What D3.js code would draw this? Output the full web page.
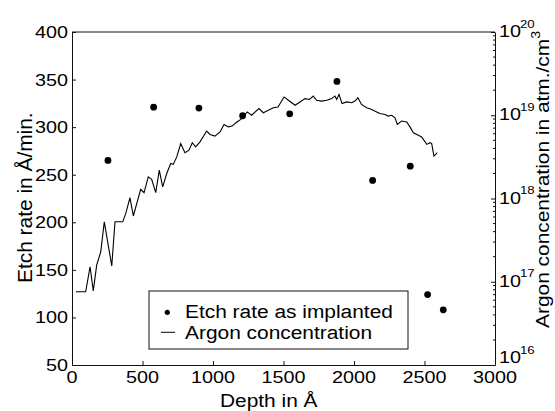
<!DOCTYPE html>
<html><head><meta charset="utf-8">
<script src="https://cdn.jsdelivr.net/npm/d3@7"></script>
<style>
body{margin:0;background:#fff}
svg{display:block}
text{font-family:"Liberation Sans",Arial,Helvetica,sans-serif;fill:#000}
</style>
</head><body><div id="chart"></div>
<script>
// ---- data ----
const etchDepth = [255, 579, 900, 1210, 1544, 1879, 2132, 2399, 2522, 2633];
const etchRate  = [265, 321, 320, 312, 314, 348, 244, 259, 124, 108];

const argonDepth = [28, 97, 128, 151, 175, 204, 229, 282, 305, 360, 383, 411, 435, 487, 511, 541, 565, 594, 619, 643,
  672, 700, 718, 743, 771, 801, 830, 853, 877, 908, 955, 979, 1014, 1050, 1078, 1110, 1135, 1163, 1204, 1243,
  1274, 1326, 1357, 1392, 1428, 1461, 1504, 1535, 1582, 1617, 1652, 1684, 1711, 1735, 1771, 1806, 1842, 1865, 1877, 1894,
  1915, 1948, 1984, 2007, 2028, 2053, 2090, 2126, 2161, 2184, 2220, 2243, 2267, 2291, 2307, 2338, 2374, 2397, 2421, 2456,
  2480, 2516, 2539, 2551, 2567, 2591];
// log10 of argon concentration (atm./cm^3)
const argonLogConc = [16.88, 16.88, 17.18, 16.89, 17.20, 17.36, 17.72, 17.19, 17.72, 17.72, 17.83, 18.01, 17.79, 18.11, 18.07, 18.26, 18.23, 18.07, 18.34, 18.14,
  18.30, 18.42, 18.41, 18.50, 18.66, 18.55, 18.58, 18.67, 18.62, 18.68, 18.81, 18.77, 18.75, 18.80, 18.89, 18.86, 18.87, 18.91, 18.96, 19.04,
  19.00, 19.08, 19.03, 19.06, 19.09, 19.10, 19.22, 19.18, 19.12, 19.16, 19.20, 19.19, 19.23, 19.18, 19.17, 19.18, 19.20, 19.23, 19.19, 19.25,
  19.14, 19.16, 19.15, 19.17, 19.21, 19.13, 19.09, 19.07, 19.04, 19.02, 19.01, 18.99, 19.00, 18.97, 18.89, 18.93, 18.92, 18.86, 18.79, 18.76,
  18.74, 18.65, 18.67, 18.66, 18.51, 18.55];

const xTicks = [0, 500, 1000, 1500, 2000, 2500, 3000];
const yTicks = [50, 100, 150, 200, 250, 300, 350, 400];
const rightExponents = [16, 17, 18, 19, 20];
const legendLabels = ["Etch rate as implanted", "Argon concentration"];
const xTitle = "Depth in Å";
const yTitle = "Etch rate in Å/min.";
const y2Title = "Argon concentration in atm./cm";

// ---- layout ----
const W = 555, H = 411;
const L = 72, R = 495, T = 32, B = 365;

const svg = d3.select("#chart").append("svg").attr("width", W).attr("height", H);

const x = d3.scaleLinear().domain([0, 3000]).range([L, R]);
const y = d3.scaleLinear().domain([50, 400]).range([B, T]);
const yR = d3.scaleLog().domain([1e16, 1e20]).range([B, T]);

function label(txt, px, py, o) {
  o = o || {};
  const t = svg.append("text")
    .attr("transform", `translate(${px},${py}) rotate(${o.rot || 0}) scale(${o.sx || 1},${o.sy || 1})`)
    .attr("font-size", o.size || 18)
    .attr("text-anchor", o.anchor || "start")
    .attr("dy", o.dy || 0)
    .text(txt);
  return t;
}

// frame
const ink = "#111";
svg.append("line").attr("x1", L).attr("x2", R).attr("y1", T).attr("y2", T).attr("stroke", ink).attr("stroke-width", 1);

// bottom axis
const gx = svg.append("g").attr("transform", `translate(0,${B})`)
  .call(d3.axisBottom(x).tickValues(xTicks).tickSizeInner(-4).tickSizeOuter(0).tickFormat(""));
// left axis
const gy = svg.append("g").attr("transform", `translate(${L},0)`)
  .call(d3.axisLeft(y).tickValues(yTicks).tickSizeInner(-4).tickSizeOuter(0).tickFormat(""));
// right axis (log)
const majors = rightExponents.map(e => Math.pow(10, e));
const minors = [];
rightExponents.slice(0, -1).forEach(e => { for (let k = 2; k <= 9; k++) minors.push(k * Math.pow(10, e)); });
const gr = svg.append("g").attr("transform", `translate(${R},0)`)
  .call(d3.axisRight(yR).tickValues(majors).tickSizeInner(-4).tickSizeOuter(0).tickFormat(""));
gr.selectAll(".minor").data(minors).enter().append("line").attr("class", "minor")
  .attr("x1", 0).attr("x2", -2).attr("y1", d => yR(d)).attr("y2", d => yR(d)).attr("stroke", ink);
[gx, gy, gr].forEach(g => { g.selectAll("path,line").attr("stroke", ink).attr("stroke-width", 1); });

// tick labels
xTicks.forEach(v => label(String(v), x(v), B + 18, {anchor: "middle", size: 18, sx: 1.1, sy: 0.95}));
yTicks.forEach(v => label(String(v), L - 4, y(v) + 6, {anchor: "end", size: 18, sx: 1.1, sy: 0.95}));
rightExponents.forEach(e => {
  const yy = yR(Math.pow(10, e)) + (e === 16 ? -2 : 5);
  const t = svg.append("text").attr("transform", `translate(${R + 4},${yy}) scale(1.1,0.95)`).attr("font-size", 18);
  t.append("tspan").text("10");
  t.append("tspan").attr("font-size", 12).attr("dy", -10).attr("dx", -1).text(String(e));
});

// axis titles
label(xTitle, 220, 406.5, {size: 19, sx: 1.1, sy: 0.95});
label(yTitle, 32, 283, {rot: -90, size: 19, sx: 1.1, sy: 1.05});
const t2 = svg.append("text").attr("transform", `translate(549,328) rotate(-90) scale(1.1,1)`).attr("font-size", 19);
t2.append("tspan").text(y2Title);
t2.append("tspan").attr("font-size", 13).attr("dy", -9).text("3");

// argon line
const argon = argonDepth.map((d, i) => ({d, c: Math.pow(10, argonLogConc[i])}));
svg.append("path").datum(argon)
  .attr("fill", "none").attr("stroke", "#000").attr("stroke-width", 1.1).attr("stroke-linejoin", "miter")
  .attr("d", d3.line().x(p => x(p.d)).y(p => yR(p.c)));

// etch points
svg.selectAll("circle.etch").data(etchDepth.map((d, i) => ({d, r: etchRate[i]}))).enter()
  .append("circle").attr("class", "etch")
  .attr("cx", p => x(p.d)).attr("cy", p => y(p.r)).attr("r", 3.4).attr("fill", "#000");

// legend
const lg = svg.append("g");
lg.append("rect").attr("x", 149).attr("y", 291).attr("width", 259).attr("height", 58)
  .attr("fill", "#fff").attr("stroke", ink).attr("stroke-width", 1);
lg.append("circle").attr("cx", 167.3).attr("cy", 312.3).attr("r", 2.6).attr("fill", "#000");
lg.append("line").attr("x1", 161).attr("x2", 175).attr("y1", 332.3).attr("y2", 332.3).attr("stroke", "#000").attr("stroke-width", 1);
label(legendLabels[0], 185, 318, {size: 19, sx: 1.1, sy: 1.0});
label(legendLabels[1], 185, 338.5, {size: 19, sx: 1.1, sy: 1.0});
</script>
</body></html>
